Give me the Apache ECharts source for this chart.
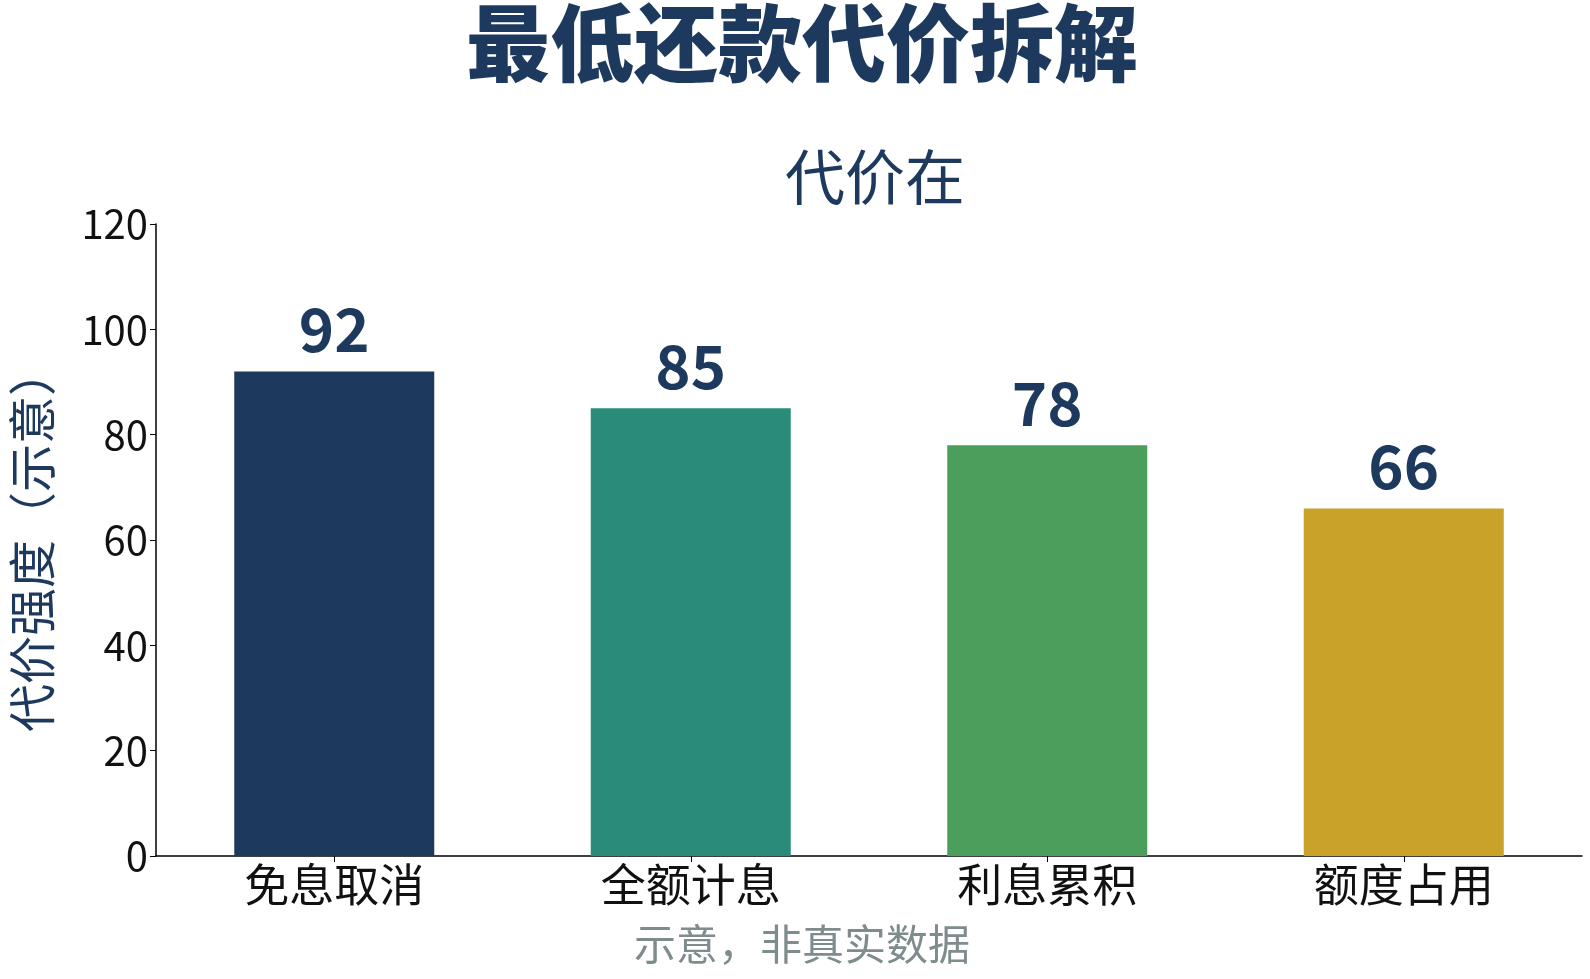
<!DOCTYPE html>
<html><head><meta charset="utf-8">
<script src="https://cdn.jsdelivr.net/npm/echarts@6/dist/echarts.min.js"></script>
<style>html,body{margin:0;padding:0;background:#fff}#c{width:1590px;height:979px}</style>
</head><body><div id="c"></div>
<script>
const categories = ['免息取消','全额计息','利息累积','额度占用'];
const values = [92, 85, 78, 66];
const colors = ['#1d3a5e','#2a8b7a','#4b9e5c','#c9a22a'];
const yTicks = [0,20,40,60,80,100,120];
const F = '"Noto Sans CJK SC","Noto Sans",sans-serif';
const chart = echarts.init(document.getElementById('c'));
chart.setOption({
  animation:false,
  textStyle:{fontFamily:F},
  title:[
    {text:'最低还款代价拆解',left:797,top:-4,textAlign:'center',textStyle:{fontSize:84,fontWeight:900,color:'#1d3a5e',fontFamily:F}},
    {text:'代价在',left:870,top:142,textAlign:'center',textStyle:{fontSize:60,fontWeight:'normal',color:'#1d3a5e',fontFamily:F}},
    {text:'示意，非真实数据',left:797,top:918,textAlign:'center',textStyle:{fontSize:42,fontWeight:'normal',color:'#7f8c8d',fontFamily:F}}
  ],
  grid:{left:153,right:8,top:224,bottom:123},
  xAxis:{type:'category',data:categories,
    axisLine:{lineStyle:{color:'#000',width:1.5}},
    axisTick:{show:true,alignWithLabel:true,length:6,lineStyle:{color:'#000'}},
    axisLabel:{fontSize:45,color:'#111',margin:6,fontFamily:F}},
  yAxis:{type:'value',min:0,max:120,interval:20,
    name:'代价强度（示意）',nameLocation:'middle',nameGap:100,
    nameTextStyle:{fontSize:48,color:'#1d3a5e',fontFamily:F},
    axisLine:{show:true,lineStyle:{color:'#000',width:1.5}},
    axisTick:{show:true,length:6,lineStyle:{color:'#000'}},
    splitLine:{show:false},
    axisLabel:{fontSize:40,color:'#111',margin:8,formatter:v=>yTicks.includes(v)?String(v):''}},
  series:[{type:'bar',barWidth:200,
    data:values.map((v,i)=>({value:v,itemStyle:{color:colors[i]}})),
    label:{show:true,position:'top',distance:12,fontSize:60,fontWeight:'bold',color:'#1d3a5e',fontFamily:F}}]
});
</script></body></html>
